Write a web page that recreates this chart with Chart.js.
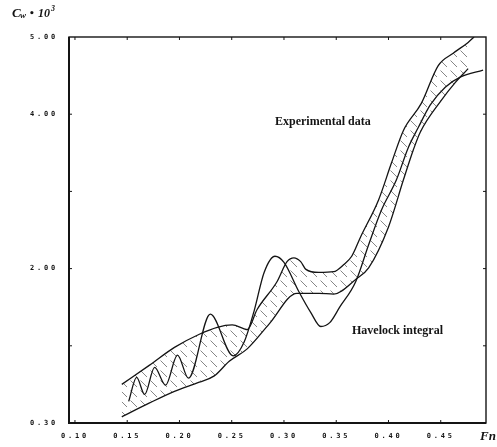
<!DOCTYPE html>
<html>
<head>
<meta charset="utf-8">
<script src="https://cdn.jsdelivr.net/npm/chart.js@4.4.0/dist/chart.umd.min.js"></script>
<style>
  html, body { margin: 0; padding: 0; background: #fff; }
</style>
</head>
<body>
<canvas id="myChart" width="497" height="447"></canvas>
<script>
// Experimental data, upper edge of the scatter band
const upperFn = [0.1448, 0.1714, 0.1952, 0.219, 0.2362, 0.2505, 0.2619, 0.2648, 0.2743, 0.2933,
  0.3029, 0.3095, 0.316, 0.321, 0.3333, 0.3476, 0.357, 0.3648, 0.3733, 0.3905, 0.4029, 0.4143,
  0.4314, 0.4476, 0.4619, 0.4762, 0.4819];
const upperCw = [0.50, 0.75, 0.98, 1.15, 1.24, 1.27, 1.22, 1.21, 1.47, 1.83,
  2.09, 2.14, 2.09, 1.99, 1.95, 1.96, 2.05, 2.16, 2.41, 2.89, 3.37, 3.79,
  4.14, 4.63, 4.79, 4.93, 5.00];

// Experimental data, lower edge of the scatter band
const lowerFn = [0.1448, 0.1714, 0.1952, 0.219, 0.2333, 0.2476, 0.2648, 0.2857, 0.3124, 0.3333,
  0.3476, 0.3686, 0.381, 0.40, 0.4143, 0.4238, 0.4305, 0.4505, 0.4638, 0.4762];
const lowerCw = [0.08, 0.26, 0.41, 0.53, 0.61, 0.80, 0.96, 1.28, 1.68, 1.68,
  1.67, 1.86, 2.01, 2.54, 3.15, 3.54, 3.77, 4.18, 4.41, 4.59];

// Havelock integral
const havelockFn = [0.1514, 0.159, 0.1667, 0.1762, 0.1867, 0.1981, 0.2086, 0.2295, 0.2514, 0.2619,
  0.2714, 0.281, 0.2914, 0.30, 0.3143, 0.3257, 0.3352, 0.3438, 0.3533, 0.3686, 0.381, 0.3933,
  0.4076, 0.419, 0.4286, 0.44, 0.4543, 0.4686, 0.4905];
const havelockCw = [0.28, 0.59, 0.37, 0.72, 0.49, 0.88, 0.58, 1.41, 0.87, 1.05,
  1.45, 1.95, 2.16, 2.08, 1.70, 1.43, 1.25, 1.30, 1.50, 1.83, 2.31, 2.76,
  3.15, 3.57, 3.83, 4.12, 4.35, 4.48, 4.57];

const xTicks = [0.10, 0.15, 0.20, 0.25, 0.30, 0.35, 0.40, 0.45];
const xTickLabels = ["0.10", "0.15", "0.20", "0.25", "0.30", "0.35", "0.40", "0.45"];
const yTicks = [0, 2, 4, 5];
const yTickLabels = ["0.30", "2.00", "4.00", "5.00"];

const toPoints = (xs, ys) => xs.map((x, i) => ({ x: x, y: ys[i] }));

// diagonal dashed hatching for the experimental band
function makeHatch() {
  const c = document.createElement("canvas");
  c.width = 10;
  c.height = 10;
  const g = c.getContext("2d");
  g.strokeStyle = "rgba(30,30,30,0.6)";
  g.lineWidth = 0.9;
  g.beginPath();
  g.moveTo(0.5, 0.5);
  g.lineTo(7, 7);
  g.stroke();
  return g.createPattern(c, "repeat");
}

const inkColor = "#141414";
const tickFont = { family: "'DejaVu Sans Mono'", size: 7, weight: "bold" };

// box frame, inward tick marks and the hand-placed text
const frameAndLabels = {
  id: "frameAndLabels",
  beforeDraw(chart) {
    chart.ctx.letterSpacing = "2.8px";
  },
  beforeDatasetsDraw(chart) {
    chart.ctx.letterSpacing = "0px";
  },
  afterDraw(chart) {
    const { ctx, chartArea: a, scales } = chart;
    ctx.save();
    ctx.letterSpacing = "0px";
    ctx.strokeStyle = inkColor;
    ctx.lineWidth = 1.4;
    ctx.strokeRect(a.left, a.top, a.right - a.left, a.bottom - a.top);
    ctx.lineWidth = 2;
    ctx.beginPath();
    ctx.moveTo(a.left, a.top);
    ctx.lineTo(a.left, a.bottom);
    ctx.lineTo(a.right, a.bottom);
    ctx.stroke();

    ctx.lineWidth = 1;
    ctx.beginPath();
    xTicks.forEach((v) => {
      const px = scales.x.getPixelForValue(v);
      ctx.moveTo(px, a.bottom);
      ctx.lineTo(px, a.bottom - 3);
      ctx.moveTo(px, a.top);
      ctx.lineTo(px, a.top + 3);
    });
    [1, 2, 3, 4].forEach((v) => {
      const py = scales.y.getPixelForValue(v);
      ctx.moveTo(a.left, py);
      ctx.lineTo(a.left + 3, py);
      ctx.moveTo(a.right, py);
      ctx.lineTo(a.right - 3, py);
    });
    ctx.stroke();

    ctx.fillStyle = inkColor;
    ctx.textBaseline = "alphabetic";
    ctx.textAlign = "left";

    // y axis title: Cw · 10³
    ctx.font = "italic bold 13px 'Liberation Serif'";
    ctx.fillText("C", 12, 17);
    ctx.font = "italic bold 9px 'Liberation Serif'";
    ctx.fillText("w", 20, 18);
    ctx.font = "bold 9px 'DejaVu Sans'";
    ctx.fillText("•", 29, 16);
    ctx.font = "italic bold 12px 'Liberation Serif'";
    ctx.fillText("10", 38, 17);
    ctx.font = "italic bold 8px 'Liberation Serif'";
    ctx.fillText("3", 51, 11);

    // x axis title
    ctx.font = "italic bold 13px 'Liberation Serif'";
    ctx.fillText("Fn", 480, 440);

    // curve labels
    ctx.font = "bold 12px 'Liberation Serif'";
    ctx.fillText("Experimental data", 275, 125);
    ctx.fillText("Havelock integral", 352, 334);
    ctx.restore();
  },
};

const canvas = document.getElementById("myChart").getContext("2d");

const myChart = new Chart(canvas, {
  type: "line",
  data: {
    datasets: [
      {
        label: "Experimental data (upper)",
        data: toPoints(upperFn, upperCw),
        borderColor: inkColor,
        borderWidth: 1.3,
        pointRadius: 0,
        cubicInterpolationMode: "monotone",
        fill: { target: 1 },
        backgroundColor: makeHatch(),
      },
      {
        label: "Experimental data (lower)",
        data: toPoints(lowerFn, lowerCw),
        borderColor: inkColor,
        borderWidth: 1.3,
        pointRadius: 0,
        cubicInterpolationMode: "monotone",
        fill: false,
      },
      {
        label: "Havelock integral",
        data: toPoints(havelockFn, havelockCw),
        borderColor: inkColor,
        borderWidth: 1.3,
        pointRadius: 0,
        cubicInterpolationMode: "monotone",
        fill: false,
      },
    ],
  },
  options: {
    responsive: false,
    animation: false,
    devicePixelRatio: 1,
    layout: { padding: { top: 37, right: 11, bottom: 0, left: 0 } },
    plugins: {
      legend: { display: false },
      tooltip: { enabled: false },
    },
    scales: {
      x: {
        type: "linear",
        min: 0.0943,
        max: 0.4933,
        grid: { display: false, drawTicks: false },
        border: { display: false },
        afterBuildTicks: (s) => {
          s.ticks = xTicks.map((v) => ({ value: v }));
        },
        afterFit: (s) => {
          s.height = 24;
        },
        ticks: {
          color: inkColor,
          font: tickFont,
          padding: 9,
          maxRotation: 0,
          autoSkip: false,
          callback: (v, i) => xTickLabels[i],
        },
      },
      y: {
        type: "linear",
        min: 0,
        max: 5,
        grid: { display: false, drawTicks: false },
        border: { display: false },
        afterBuildTicks: (s) => {
          s.ticks = yTicks.map((v) => ({ value: v }));
        },
        afterFit: (s) => {
          s.width = 69;
        },
        ticks: {
          color: inkColor,
          font: tickFont,
          padding: 11,
          autoSkip: false,
          callback: (v, i) => yTickLabels[i],
        },
      },
    },
  },
  plugins: [frameAndLabels],
});
</script>
</body>
</html>
